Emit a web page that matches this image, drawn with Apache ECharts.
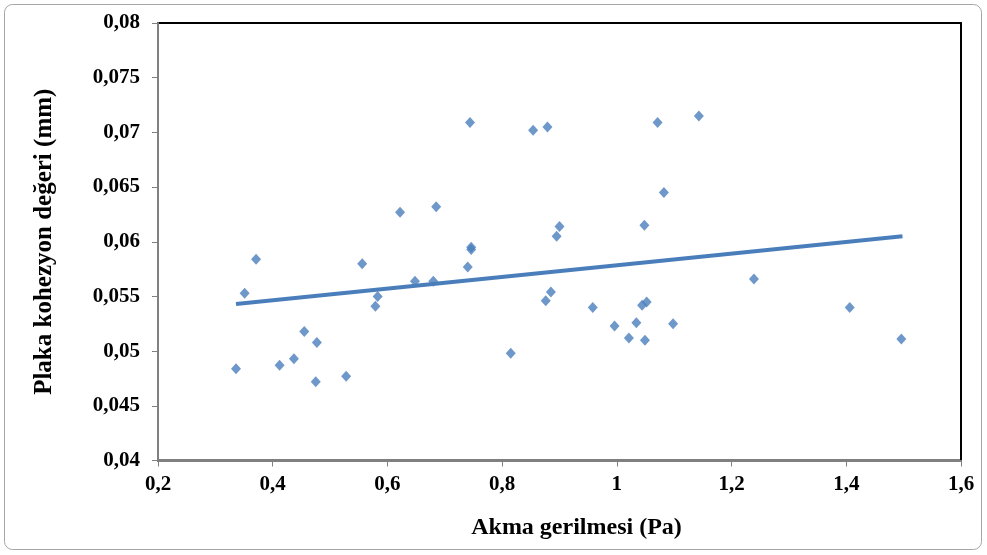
<!DOCTYPE html>
<html>
<head>
<meta charset="utf-8">
<script src="https://cdn.jsdelivr.net/npm/echarts@6/dist/echarts.min.js"></script>
<style>html,body{margin:0;padding:0;background:#fff;}#c{width:987px;height:555px;}</style>
</head>
<body>
<div id="c"></div>
<script>
const xTicks = [0.2, 0.4, 0.6, 0.8, 1, 1.2, 1.4, 1.6];
const yTicks = [0.04, 0.045, 0.05, 0.055, 0.06, 0.065, 0.07, 0.075, 0.08];
const akma = [0.336,0.351,0.371,0.412,0.437,0.455,0.477,0.475,0.528,0.556,0.583,0.579,0.622,0.685,0.648,0.680,0.744,0.746,0.746,0.740,0.854,0.879,0.900,0.895,0.885,0.876,0.815,0.958,0.996,1.021,1.034,1.044,1.052,1.049,1.048,1.082,1.071,1.143,1.098,1.239,1.406,1.496];
const kohezyon = [0.0484,0.0553,0.0584,0.0487,0.0493,0.0518,0.0508,0.0472,0.0477,0.0580,0.0550,0.0541,0.0627,0.0632,0.0564,0.0564,0.0709,0.0595,0.0593,0.0577,0.0702,0.0705,0.0614,0.0605,0.0554,0.0546,0.0498,0.0540,0.0523,0.0512,0.0526,0.0542,0.0545,0.0510,0.0615,0.0645,0.0709,0.0715,0.0525,0.0566,0.0540,0.0511];
const trendX = [0.336, 1.498];
const trendY = [0.0543, 0.0605];

const fmt = v => String(+(+v).toFixed(4)).replace('.', ',');
const font = 'Liberation Serif';
const chart = echarts.init(document.getElementById('c'));
chart.setOption({
  animation: false,
  backgroundColor: '#fff',
  graphic: [{
    type: 'rect', shape: {x: 4.5, y: 4.5, width: 977, height: 545, r: 8},
    style: {fill: 'none', stroke: '#a6a6a6', lineWidth: 1}, z: -1
  }],
  grid: {left: 158, top: 23, right: 26, bottom: 94.5, show: true, borderColor: '#000', borderWidth: 2, backgroundColor: 'transparent'},
  xAxis: {
    type: 'value', min: xTicks[0], max: xTicks[xTicks.length-1], interval: 0.2,
    name: 'Akma gerilmesi (Pa)', nameLocation: 'middle', nameGap: 55,
    nameTextStyle: {fontFamily: font, fontWeight: 'bold', fontSize: 24, color: '#000', padding: [0, 0, 0, 34]},
    axisLine: {show: true, onZero: false, lineStyle: {color: '#808080', width: 2}},
    axisTick: {show: true, length: 6, lineStyle: {color: '#808080', width: 1}},
    axisLabel: {fontFamily: font, fontWeight: 'bold', fontSize: 21, color: '#000', margin: 14, formatter: fmt},
    splitLine: {show: false}
  },
  yAxis: {
    type: 'value', min: yTicks[0], max: yTicks[yTicks.length-1], interval: 0.005,
    name: 'Plaka kohezyon değeri (mm)', nameLocation: 'middle', nameGap: 101,
    nameTextStyle: {fontFamily: font, fontWeight: 'bold', fontSize: 25, color: '#000'},
    axisLine: {show: true, onZero: false, lineStyle: {color: '#808080', width: 2}},
    axisTick: {show: true, length: 6, lineStyle: {color: '#808080', width: 1}},
    axisLabel: {fontFamily: font, fontWeight: 'bold', fontSize: 21, color: '#000', margin: 18, formatter: fmt},
    splitLine: {show: false}
  },
  series: [
    {
      type: 'line', data: trendX.map((x, i) => [x, trendY[i]]), symbol: 'none',
      lineStyle: {color: '#4a7ebb', width: 4}, z: 2
    },
    {
      type: 'scatter', data: akma.map((x, i) => [x, kohezyon[i]]), symbol: 'diamond', symbolSize: [10, 11],
      itemStyle: {color: '#4a7ebb'}, z: 3
    }
  ]
});
</script>
</body>
</html>
